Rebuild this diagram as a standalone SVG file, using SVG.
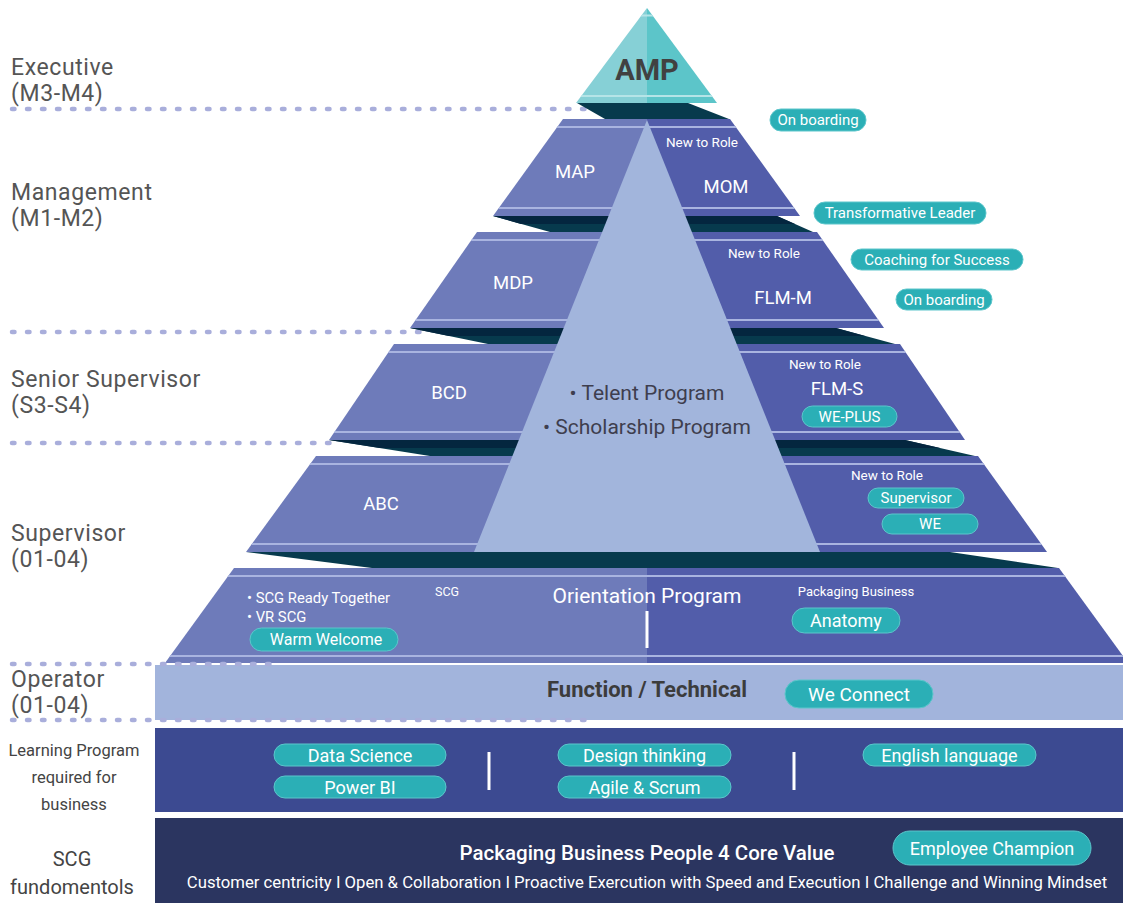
<svg xmlns="http://www.w3.org/2000/svg" width="1123" height="903" viewBox="0 0 1123 903">
<style>
text{font-family:Roboto,"Liberation Sans",sans-serif;}
.lbl{font-size:23px;fill:#555;letter-spacing:0.6px;}
.lbl2{font-size:16.5px;fill:#444;text-anchor:middle;}
.tl{fill:#6E7BBA;}
.tr{fill:#525DAA;}
.hl{stroke:#A9B4E0;stroke-width:2;}
.sh{fill:#073A4D;}
.sh2{fill:#04263F;}
.dot{stroke:#A9AEDB;stroke-width:4.5;stroke-linecap:round;stroke-dasharray:2.5 12.5;fill:none;}
.w{fill:#fff;text-anchor:middle;}
.nr{font-size:13.5px;}
.big{font-size:18.5px;}
.pill{fill:#2BAFB6;stroke:#5CC6CB;stroke-width:1;}
.pt{fill:#fff;text-anchor:middle;dominant-baseline:central;}
.vl{stroke:#fff;stroke-width:3;}
</style>
<defs>
<clipPath id="cA"><polygon points="647,8 717,103 576,103"/></clipPath>
<clipPath id="c1"><polygon points="563,119 730,119 800,216 493,216"/></clipPath>
<clipPath id="c2"><polygon points="477,232 817,232 884,328 410,328"/></clipPath>
<clipPath id="c3"><polygon points="394,344 900,344 965,440 329,440"/></clipPath>
<clipPath id="c4"><polygon points="316,456 978,456 1047,552 246,552"/></clipPath>
<clipPath id="c5"><polygon points="234,568 1059,568 1128,663 165,663"/></clipPath>
</defs>
<rect width="1123" height="903" fill="#fff"/>

<g id="levels">
<text class="lbl" x="11" y="75">Executive</text>
<text class="lbl" x="11" y="101">(M3-M4)</text>
<text class="lbl" x="11" y="200">Management</text>
<text class="lbl" x="11" y="226">(M1-M2)</text>
<text class="lbl" x="11" y="387">Senior Supervisor</text>
<text class="lbl" x="11" y="413">(S3-S4)</text>
<text class="lbl" x="11" y="541">Supervisor</text>
<text class="lbl" x="11" y="567">(01-04)</text>
<text class="lbl" x="11" y="687">Operator</text>
<text class="lbl" x="11" y="713">(01-04)</text>
<text class="lbl2" x="74" y="756">Learning Program</text>
<text class="lbl2" x="74" y="783">required for</text>
<text class="lbl2" x="74" y="810">business</text>
<text class="lbl2" x="72" y="866" style="font-size:20px">SCG</text>
<text class="lbl2" x="72" y="894" style="font-size:20px">fundomentols</text>
</g>

<g id="connectors">
<line class="dot" x1="12" y1="109" x2="590" y2="109"/>
<line class="dot" x1="12" y1="332" x2="428" y2="332"/>
<line class="dot" x1="12" y1="443" x2="338" y2="443"/>
</g>

<g id="shadows">
<polygon class="sh" points="577,103 688,103 729,119 605,119"/>
<polygon class="sh" points="493,216 777,216 813,232 550,232"/>
<polygon class="sh2" points="493,216 777,216 795,224 521,224"/>
<polygon class="sh" points="410,328 836,328 895,344 488,344"/>
<polygon class="sh2" points="410,328 836,328 865,336 449,336"/>
<polygon class="sh" points="329,440 905,440 975,456 430,456"/>
<polygon class="sh2" points="329,440 905,440 940,448 380,448"/>
<polygon class="sh" points="246,552 950,552 1058,568 372,568"/>
</g>

<g id="amp">
<polygon points="647,8 647,103 576,103" fill="#86D0D6"/>
<polygon points="647,8 717,103 647,103" fill="#5CC5C9"/>
<g clip-path="url(#cA)"><line x1="560" y1="15.5" x2="740" y2="15.5" stroke="#B5E4E7" stroke-width="2"/><line x1="560" y1="96" x2="740" y2="96" stroke="#B5E4E7" stroke-width="2"/></g>
<text x="647" y="80" text-anchor="middle" style="font-size:29px;font-weight:700;fill:#414141">AMP</text>
</g>

<g id="tier1">
<polygon class="tl" points="563,119 647,119 647,216 493,216"/>
<polygon class="tr" points="647,119 730,119 800,216 647,216"/>
<g clip-path="url(#c1)"><line class="hl" x1="400" y1="127" x2="900" y2="127"/><line class="hl" x1="400" y1="208" x2="900" y2="208"/></g>
</g>
<g id="tier2">
<polygon class="tl" points="477,232 647,232 647,328 410,328"/>
<polygon class="tr" points="647,232 817,232 884,328 647,328"/>
<g clip-path="url(#c2)"><line class="hl" x1="300" y1="240" x2="1000" y2="240"/><line class="hl" x1="300" y1="320" x2="1000" y2="320"/></g>
</g>
<g id="tier3">
<polygon class="tl" points="394,344 647,344 647,440 329,440"/>
<polygon class="tr" points="647,344 900,344 965,440 647,440"/>
<g clip-path="url(#c3)"><line class="hl" x1="300" y1="352" x2="1000" y2="352"/><line class="hl" x1="300" y1="432" x2="1000" y2="432"/></g>
</g>
<g id="tier4">
<polygon class="tl" points="316,456 647,456 647,552 246,552"/>
<polygon class="tr" points="647,456 978,456 1047,552 647,552"/>
<g clip-path="url(#c4)"><line class="hl" x1="200" y1="464" x2="1100" y2="464"/><line class="hl" x1="200" y1="544" x2="1100" y2="544"/></g>
</g>
<g id="tier5">
<polygon class="tl" points="234,568 647,568 647,663 165,663"/>
<polygon class="tr" points="647,568 1059,568 1128,663 647,663"/>
<g clip-path="url(#c5)"><line class="hl" x1="100" y1="576" x2="1123" y2="576"/><line class="hl" x1="100" y1="656" x2="1123" y2="656"/></g>
</g>

<g id="center-triangle">
<polygon points="647,120 820,552 474,552" fill="#A2B5DC"/>
<text x="647" y="400" text-anchor="middle" style="font-size:21px;fill:#3E3E4E">• Telent Program</text>
<text x="647" y="434" text-anchor="middle" style="font-size:21px;fill:#3E3E4E">• Scholarship Program</text>
</g>

<g id="tier1-text">
<text class="w big" x="575" y="178">MAP</text>
<text class="w nr" x="702" y="147">New to Role</text>
<text class="w big" x="726" y="193">MOM</text>
</g>
<g id="tier2-text">
<text class="w big" x="513" y="289">MDP</text>
<text class="w nr" x="764" y="258">New to Role</text>
<text class="w big" x="783" y="304">FLM-M</text>
</g>
<g id="tier3-text">
<text class="w big" x="449" y="399">BCD</text>
<text class="w nr" x="825" y="369">New to Role</text>
<text class="w big" x="837" y="395">FLM-S</text>
<rect class="pill" x="802" y="406" width="95" height="21" rx="10.5"/>
<text class="pt" x="849.5" y="416.5" style="font-size:15px">WE-PLUS</text>
</g>
<g id="tier4-text">
<text class="w big" x="381" y="510">ABC</text>
<text class="w nr" x="887" y="480">New to Role</text>
<rect class="pill" x="868" y="488" width="96" height="20" rx="10"/>
<text class="pt" x="916" y="498" style="font-size:15px">Supervisor</text>
<rect class="pill" x="882" y="514" width="96" height="20" rx="10"/>
<text class="pt" x="930" y="524" style="font-size:15px">WE</text>
</g>
<g id="tier5-text">
<text x="247" y="603" style="font-size:14.8px;fill:#fff">• SCG Ready Together</text>
<text x="247" y="622" style="font-size:14.8px;fill:#fff">• VR SCG</text>
<rect class="pill" x="250" y="628" width="148" height="23" rx="11.5"/>
<text class="pt" x="326" y="639.5" style="font-size:16px">Warm Welcome</text>
<text class="w" x="447" y="596" style="font-size:12.5px">SCG</text>
<text class="w" x="647" y="603" style="font-size:21px">Orientation Program</text>
<text class="w" x="856" y="596" style="font-size:13px">Packaging Business</text>
<rect class="pill" x="792" y="608" width="108" height="25" rx="12.5"/>
<text class="pt" x="846" y="620.5" style="font-size:18px">Anatomy</text>
<line class="vl" x1="647" y1="611" x2="647" y2="648"/>
</g>

<g id="side-pills">
<rect class="pill" x="770" y="109" width="96" height="22" rx="11"/>
<text class="pt" x="818" y="120" style="font-size:15px">On boarding</text>
<rect class="pill" x="814" y="202" width="172" height="22" rx="11"/>
<text class="pt" x="900" y="213" style="font-size:15px">Transformative Leader</text>
<rect class="pill" x="851" y="249" width="172" height="21" rx="10.5"/>
<text class="pt" x="937" y="259.5" style="font-size:15px">Coaching for Success</text>
<rect class="pill" x="896" y="289" width="96" height="21" rx="10.5"/>
<text class="pt" x="944" y="299.5" style="font-size:15px">On boarding</text>
</g>

<g id="function-bar">
<rect x="155" y="665" width="968" height="55" fill="#A2B4DC"/>
<text x="647" y="697" text-anchor="middle" style="font-size:22px;font-weight:700;fill:#3C3C3C">Function / Technical</text>
<rect class="pill" x="785" y="680" width="148" height="28" rx="14"/>
<text class="pt" x="859" y="694" style="font-size:19px">We Connect</text>
</g>

<g id="connectors-low">
<line class="dot" x1="12" y1="664" x2="272" y2="664"/>
<line class="dot" x1="12" y1="720" x2="590" y2="720"/>
</g>

<g id="learning-bar">
<rect x="155" y="728" width="968" height="84" fill="#3C4A91"/>
<rect class="pill" x="274" y="744" width="172" height="22" rx="11"/>
<text class="pt" x="360" y="755" style="font-size:18px">Data Science</text>
<rect class="pill" x="274" y="776" width="172" height="22" rx="11"/>
<text class="pt" x="360" y="787" style="font-size:18px">Power BI</text>
<rect class="pill" x="558" y="744" width="173" height="22" rx="11"/>
<text class="pt" x="644.5" y="755" style="font-size:18px">Design thinking</text>
<rect class="pill" x="558" y="776" width="173" height="22" rx="11"/>
<text class="pt" x="644.5" y="787" style="font-size:18px">Agile &amp; Scrum</text>
<rect class="pill" x="863" y="744" width="173" height="22" rx="11"/>
<text class="pt" x="949.5" y="755" style="font-size:18px">English language</text>
<line class="vl" x1="489" y1="752" x2="489" y2="790"/>
<line class="vl" x1="794" y1="752" x2="794" y2="790"/>
</g>

<g id="core-bar">
<rect x="155" y="818" width="968" height="85" fill="#2B3560"/>
<text x="647" y="860" text-anchor="middle" style="font-size:20.5px;font-weight:500;fill:#fff">Packaging Business People 4 Core Value</text>
<rect class="pill" x="893" y="831" width="198" height="34" rx="17"/>
<text class="pt" x="992" y="848" style="font-size:18px">Employee Champion</text>
<text x="647" y="888" text-anchor="middle" style="font-size:16.7px;fill:#fff">Customer centricity I Open &amp; Collaboration I Proactive Exercution with Speed and Execution I Challenge and Winning Mindset</text>
</g>
</svg>
